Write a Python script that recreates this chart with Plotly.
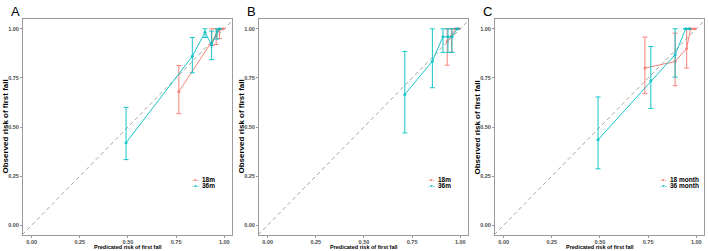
import plotly.graph_objects as go

# ---------------- data ----------------
panels = ["A", "B", "C"]
legend_names = [["18m", "36m"], ["18m", "36m"], ["18 month", "36 month"]]

A_18_x = [0.764, 0.935, 0.958, 0.975, 0.992]
A_18_y = [0.68, 0.93, 0.965, 0.995, 1.0]
A_18_lo = [0.568, 0.915, 0.92, 0.95, 1.0]
A_18_hi = [0.813, 1.0, 1.0, 1.0, 1.0]

A_36_x = [0.49, 0.834, 0.90, 0.934, 0.962, 0.975]
A_36_y = [0.42, 0.86, 0.983, 0.917, 0.986, 1.0]
A_36_lo = [0.334, 0.776, 0.956, 0.843, 0.948, 1.0]
A_36_hi = [0.60, 0.956, 1.0, 0.988, 1.0, 1.0]

B_18_x = [0.932, 0.955, 0.975, 0.99]
B_18_y = [0.936, 0.965, 1.0, 1.0]
B_18_lo = [0.815, 0.88, 1.0, 1.0]
B_18_hi = [1.0, 1.0, 1.0, 1.0]

B_36_x = [0.712, 0.855, 0.91, 0.936, 0.957, 0.985]
B_36_y = [0.666, 0.835, 0.96, 0.96, 0.96, 1.0]
B_36_lo = [0.47, 0.70, 0.88, 0.88, 0.88, 1.0]
B_36_hi = [0.885, 1.0, 1.0, 1.0, 1.0, 1.0]

C_18_x = [0.733, 0.89, 0.95, 0.97, 0.99]
C_18_y = [0.80, 0.833, 0.90, 1.0, 1.0]
C_18_lo = [0.67, 0.71, 0.80, 1.0, 1.0]
C_18_hi = [0.958, 0.978, 1.0, 1.0, 1.0]

C_36_x = [0.49, 0.764, 0.89, 0.945, 0.962]
C_36_y = [0.435, 0.735, 0.868, 1.0, 1.0]
C_36_lo = [0.287, 0.594, 0.754, 1.0, 1.0]
C_36_hi = [0.653, 0.91, 1.0, 1.0, 1.0]

tick_vals = [0.0, 0.25, 0.5, 0.75, 1.0]
tick_text = ["0.00", "0.25", "0.50", "0.75", "1.00"]
ref_line = [-0.1, 1.1]

series = {
    "A": [(A_18_x, A_18_y, A_18_lo, A_18_hi), (A_36_x, A_36_y, A_36_lo, A_36_hi)],
    "B": [(B_18_x, B_18_y, B_18_lo, B_18_hi), (B_36_x, B_36_y, B_36_lo, B_36_hi)],
    "C": [(C_18_x, C_18_y, C_18_lo, C_18_hi), (C_36_x, C_36_y, C_36_lo, C_36_hi)],
}
colors = ["#F8766D", "#00BFC4"]

# ---------------- layout geometry ----------------
W, H = 708, 251
panel_w = 236
plot_left, plot_right = 23, 232   # within a panel (px)
plot_top, plot_bottom = 19, 235   # px from top

FONT = "Liberation Sans, Arial, sans-serif"

fig = go.Figure()
layout = dict(
    width=W, height=H,
    margin=dict(l=0, r=0, t=0, b=0),
    paper_bgcolor="white", plot_bgcolor="white",
    showlegend=False,
    font=dict(family=FONT),
)
annotations = []

for i, p in enumerate(panels):
    sfx = "" if i == 0 else str(i + 1)
    xa, ya = "x" + sfx, "y" + sfx
    off = i * panel_w
    xd = [(off + plot_left) / W, (off + plot_right) / W]
    yd = [(H - plot_bottom) / H, (H - plot_top) / H]
    axis_common = dict(
        tickvals=tick_vals, ticktext=tick_text,
        showgrid=False, zeroline=False,
        showline=True, mirror=True, linecolor="#9a9a9a", linewidth=1,
        ticks="outside", ticklen=2, tickcolor="#9a9a9a", tickwidth=1,
        tickfont=dict(size=5.5, color="#4d4d4d", family=FONT, weight="bold"),
        automargin=False, fixedrange=True,
    )
    layout["xaxis" + sfx] = dict(domain=xd, range=[-0.045, 1.04], anchor=ya,
                                 ticklabelstandoff=-1, **axis_common)
    layout["yaxis" + sfx] = dict(domain=yd, range=[-0.05, 1.05], anchor=xa, **axis_common)

    # diagonal reference line
    fig.add_trace(go.Scatter(
        x=ref_line, y=ref_line, mode="lines", xaxis=xa, yaxis=ya,
        line=dict(color="#a8a8a8", width=1, dash="4px,3px"), hoverinfo="skip"))

    for j, (sx, sy, lo, hi) in enumerate(series[p]):
        plus = [h - v for h, v in zip(hi, sy)]
        minus = [v - l for v, l in zip(sy, lo)]
        fig.add_trace(go.Scatter(
            x=sx, y=sy, mode="lines+markers", xaxis=xa, yaxis=ya,
            name=legend_names[i][j],
            line=dict(color=colors[j], width=1),
            marker=dict(color=colors[j], size=3),
            opacity=0.9,
            error_y=dict(type="data", symmetric=False, array=plus, arrayminus=minus,
                         color=colors[j], thickness=1, width=2.5),
        ))

    # panel letter
    annotations.append(dict(
        text=p, xref="paper", yref="paper",
        x=(off + 9) / W, y=(H - 2) / H, xanchor="left", yanchor="top",
        showarrow=False, font=dict(size=13, color="black", family=FONT)))
    # axis titles
    annotations.append(dict(
        text="<b>Predicated risk of first fall</b>", xref="paper", yref="paper",
        x=(off + (plot_left + plot_right) / 2) / W, y=0,
        xanchor="center", yanchor="bottom", showarrow=False,
        font=dict(size=5.5, color="black", family=FONT), borderpad=0))
    annotations.append(dict(
        text="<b>Observed risk of first fall</b>", xref="paper", yref="paper",
        x=(off + 4.5) / W, y=(H - (plot_top + plot_bottom) / 2) / H,
        xanchor="center", yanchor="middle", textangle=-90, showarrow=False,
        font=dict(size=8, color="black", family=FONT)))
    # legend (glyph + label)
    gx = off + (190 if i < 2 else 186)
    for j in range(2):
        ly = (H - (179 + 6.5 * j)) / H
        annotations.append(dict(
            text="-•-", xref="paper", yref="paper",
            x=gx / W, y=ly, xanchor="left", yanchor="middle", showarrow=False,
            font=dict(size=6.5, color=colors[j], family=FONT)))
        annotations.append(dict(
            text=f"<b>{legend_names[i][j]}</b>", xref="paper", yref="paper",
            x=(gx + 10) / W, y=ly, xanchor="left", yanchor="middle", showarrow=False,
            font=dict(size=6.5, color="black", family=FONT)))

layout["annotations"] = annotations
fig.update_layout(**layout)
fig.write_html("out.html")
